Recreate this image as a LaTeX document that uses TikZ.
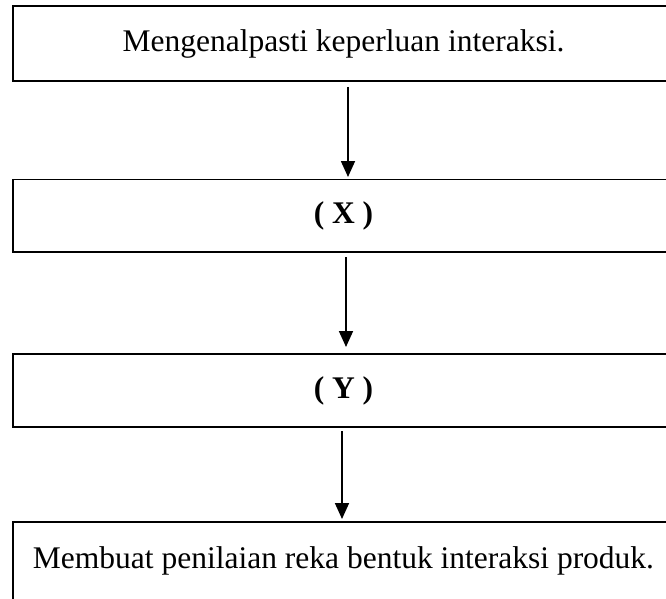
\documentclass[tikz,border=0pt]{standalone}
\usepackage{fontspec}
\setmainfont{Liberation Serif}
\usetikzlibrary{arrows.meta}
\begin{document}
\begin{tikzpicture}[x=1pt,y=-1pt,
  box/.style={draw, line width=1.7pt, rectangle, inner sep=0pt, outer sep=0pt,
    minimum width=661pt, font=\fontsize{31.5}{36}\selectfont},
  flow/.style={-{Triangle[length=16pt,width=14pt]}, line width=1.7pt}]
\useasboundingbox (0,0) rectangle (666,599);
\clip (0,0) rectangle (666,599);
\node[box, minimum height=75pt] (b1) at (343.5,43.5) {Mengenalpasti keperluan interaksi.};
\node[box, minimum height=72.5pt] (b2) at (343.5,215.75) {\textbf{( X )}};
\node[box, minimum height=73pt] (b3) at (343.5,390.5) {\textbf{( Y )}};
\node[box, minimum height=78pt] (b4) at (343.5,561) {Membuat penilaian reka bentuk interaksi produk.};
\coordinate (a1s) at (348,87);
\coordinate (a1e) at (348,177);
\coordinate (a2s) at (346,257);
\coordinate (a2e) at (346,347);
\coordinate (a3s) at (342,431);
\coordinate (a3e) at (342,519);
\draw[flow] (a1s) -- (a1e);
\draw[flow] (a2s) -- (a2e);
\draw[flow] (a3s) -- (a3e);
\end{tikzpicture}
\end{document}
